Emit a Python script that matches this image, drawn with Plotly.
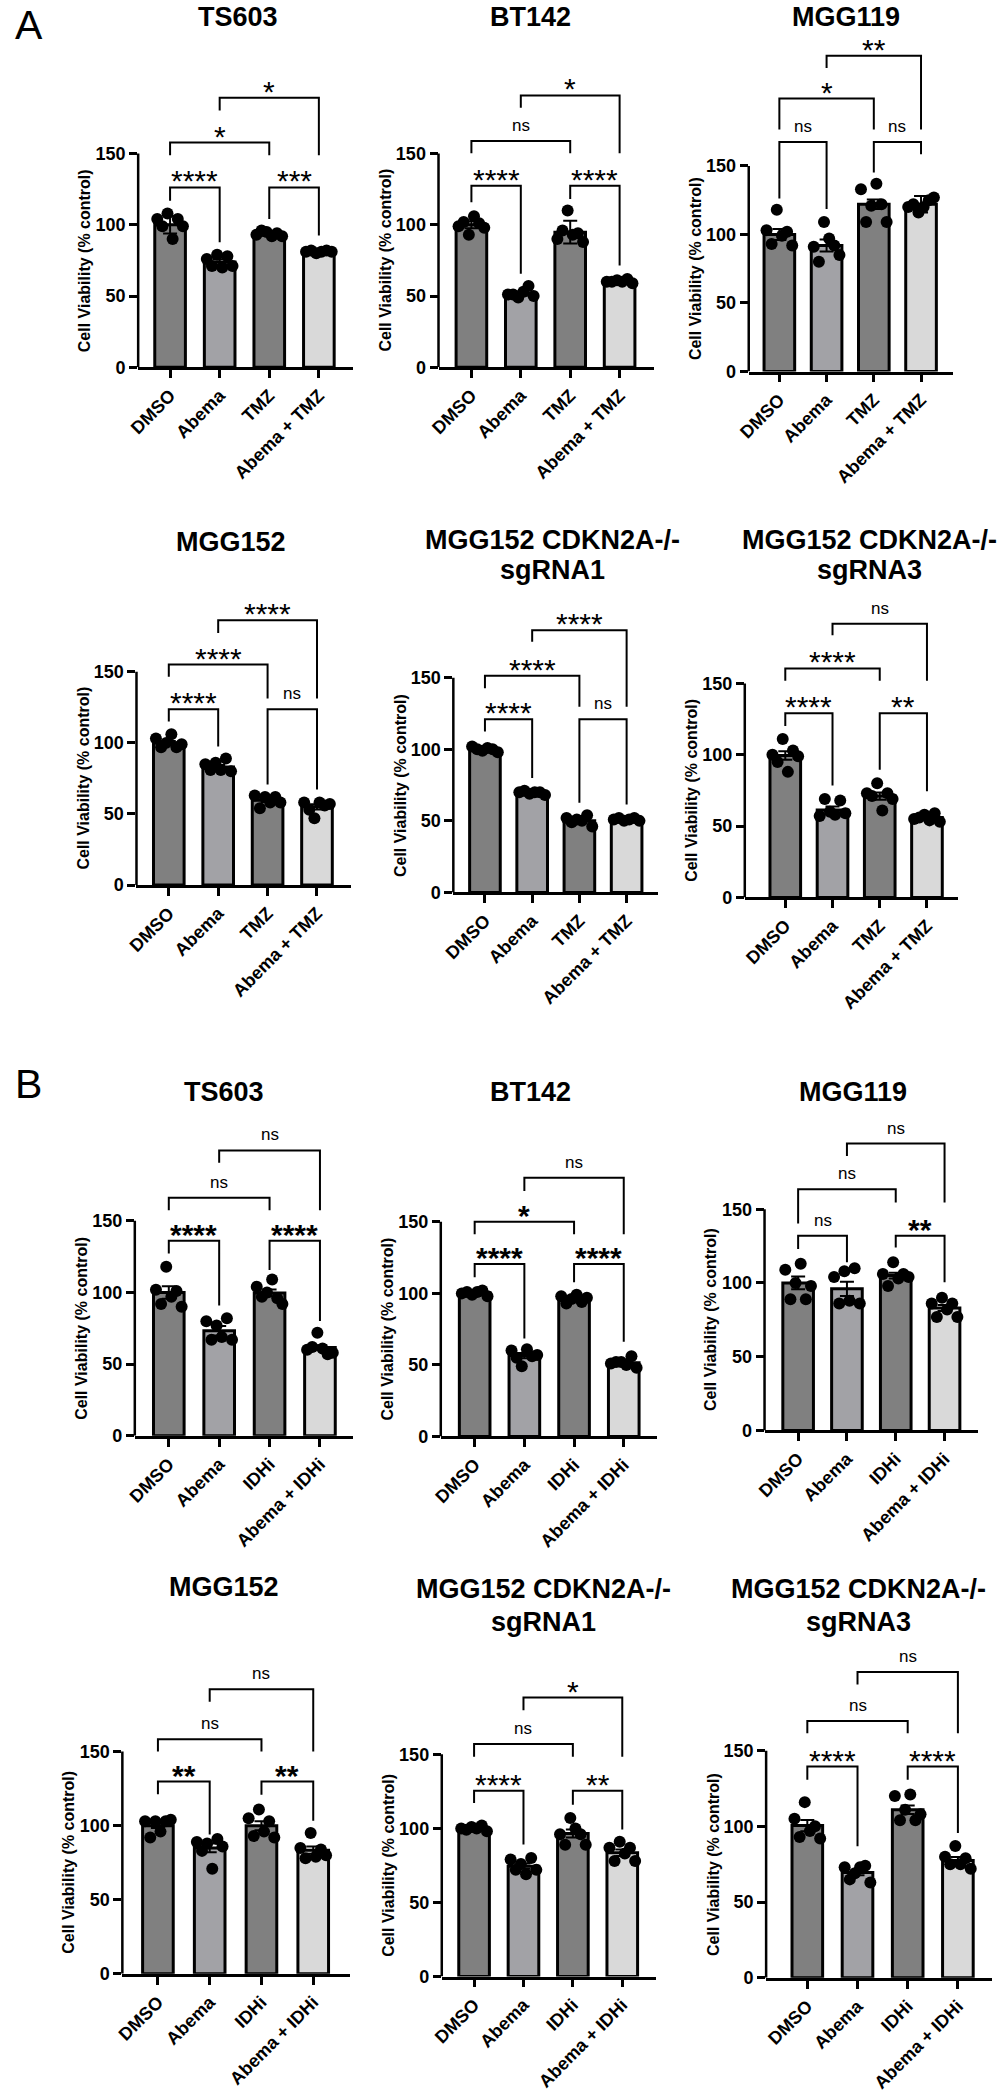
import numpy as np
import plotly.graph_objects as go

W, H = 998, 2100
FONT = "Arial, Liberation Sans, sans-serif"

groups_tmz = ["DMSO", "Abema", "TMZ", "Abema + TMZ"]
groups_idhi = ["DMSO", "Abema", "IDHi", "Abema + IDHi"]
bar_colors = ["#808080", "#a2a2a6", "#808080", "#d9d9d9"]
ytick_vals = [0, 50, 100, 150]
ylabel = "Cell Viability (% control)"

#############################################
# panel A : Abema + TMZ
#############################################
a1_title = ["TS603"]
a1_mean = [100, 73.8, 93.6, 81.3]
a1_err = [6.2, 2.0, 1.4, 0.6]
a1_pts = [[104, 99, 108, 90, 104, 99], [76, 71, 79, 70, 78, 71],
          [93, 96, 95, 92, 94, 92], [81, 82, 80, 81, 82, 81]]
# (group i, group j, bracket height, left leg end, right leg end, label)
a1_sig = [(0, 1, 126.2, 116.9, 87.8, "****"), (2, 3, 126.2, 104.1, 92.5, "***"),
          (0, 2, 157.7, 148.8, 148.8, "*"), (1, 3, 189.1, 180.3, 148.8, "*")]

a2_title = ["BT142"]
a2_mean = [100, 51.7, 94.8, 60.5]
a2_err = [2.5, 1.5, 8, 0.8]
a2_pts = [[99, 102, 93, 106, 101, 98], [51, 51, 49, 53, 57, 50],
          [90, 96, 110, 93, 94, 88], [60, 60, 61, 60, 62, 59]]
a2_sig = [(0, 1, 127.4, 115.8, 65.7, "****"), (2, 3, 127.4, 118.1, 71.5, "****"),
          (0, 2, 158.9, 150.2, 150.2, "ns"), (1, 3, 190.8, 182.2, 150.2, "*")]

a3_title = ["MGG119"]
a3_mean = [100, 92, 122, 122]
a3_err = [4, 4.4, 3.5, 6]
a3_pts = [[103, 93, 118, 99, 102, 92], [91, 80, 109, 97, 92, 85],
          [133, 109, 121, 137, 122, 109], [120, 122, 116, 120, 125, 127]]
a3_sig = [(0, 1, 167.4, 126.3, 118.6, "ns"), (2, 3, 167.4, 145.2, 158.5, "ns"),
          (0, 2, 199.1, 176.6, 176.6, "*"), (1, 3, 230.3, 221.4, 176.6, "**")]

a4_title = ["MGG152"]
a4_mean = [100, 83, 59.7, 55]
a4_err = [1.4, 1.4, 1.3, 1.8]
a4_pts = [[103, 97, 100, 106, 97, 99], [85, 81, 86, 81, 89, 80],
          [63, 54, 62, 58, 62, 58], [58, 53, 47, 58, 56, 57]]
a4_sig = [(0, 1, 123.6, 115.0, 97.5, "****"), (2, 3, 123.6, 70.7, 67.2, "ns"),
          (0, 2, 155.1, 146.5, 131.3, "****"), (1, 3, 186.2, 177.3, 131.3, "****")]

a5_title = ["MGG152 CDKN2A-/-", "sgRNA1"]
a5_mean = [100, 69.6, 50, 51]
a5_err = [0.8, 0.6, 1.2, 0.5]
a5_pts = [[102, 100, 99, 101, 100, 98], [70, 71, 69, 70, 70, 68],
          [52, 49, 51, 50, 54, 46], [51, 52, 50, 51, 52, 50]]
a5_sig = [(0, 1, 121.0, 112.4, 80.0, "****"), (2, 3, 121.0, 62.6, 61.4, "ns"),
          (0, 2, 151.4, 142.6, 129.8, "****"), (1, 3, 183.2, 175.1, 129.8, "****")]

a6_title = ["MGG152 CDKN2A-/-", "sgRNA3"]
a6_mean = [99.5, 61.2, 71, 56]
a6_err = [3, 2.5, 2.6, 1]
a6_pts = [[100, 95, 111, 88, 103, 99], [57, 69, 60, 58, 68, 59],
          [73, 71, 80, 61, 73, 69], [55, 56, 58, 54, 59, 53]]
a6_sig = [(0, 1, 129.1, 120.2, 78.4, "****"), (2, 3, 129.1, 89.5, 74.4, "**"),
          (0, 2, 160.5, 151.9, 151.9, "****"), (1, 3, 191.9, 183.7, 151.9, "ns")]

#############################################
# panel B : Abema + IDHi
#############################################
b1_title = ["TS603"]
b1_mean = [100, 73.3, 99.7, 61.6]
b1_err = [4.3, 3.3, 2.4, 1.6]
b1_pts = [[102, 92, 118, 97, 101, 90], [80, 67, 77, 69, 82, 67],
          [104, 97, 100, 109, 96, 92], [60, 62, 72, 61, 57, 58]]
b1_sig = [(0, 1, 136.1, 127.3, 91.0, "****"), (2, 3, 136.1, 115.7, 80.1, "****"),
          (0, 2, 166.2, 157.4, 157.4, "ns"), (1, 3, 199.1, 190.5, 157.4, "ns")]

b2_title = ["BT142"]
b2_mean = [100.5, 56.5, 96, 51.5]
b2_err = [0.7, 1.8, 1.1, 1.2]
b2_pts = [[100, 101, 99, 101, 102, 98], [60, 55, 49, 61, 56, 57],
          [98, 93, 96, 99, 94, 97], [51, 52, 52, 50, 56, 48]]
b2_sig = [(0, 1, 120.6, 111.3, 68.4, "****"), (2, 3, 120.6, 107.8, 66.1, "****"),
          (0, 2, 150.0, 141.4, 141.4, "*"), (1, 3, 180.8, 171.6, 141.4, "ns")]

b3_title = ["MGG119"]
b3_mean = [100, 96, 105, 83]
b3_err = [4.3, 4.8, 2, 2]
b3_pts = [[109, 89, 100, 113, 89, 98], [104, 86, 108, 88, 110, 86],
          [106, 98, 114, 103, 106, 104], [86, 77, 90, 82, 86, 77]]
b3_sig = [(0, 1, 132.0, 123.0, 114.0, "ns"), (2, 3, 132.0, 124.1, 100.5, "**"),
          (0, 2, 163.5, 140.3, 154.5, "ns"), (1, 3, 194.5, 186.0, 154.5, "ns")]

b4_title = ["MGG152"]
b4_mean = [100, 85, 100, 83.5]
b4_err = [1.5, 3, 3, 2.5]
b4_pts = [[103, 92, 103, 96, 103, 104], [89, 83, 88, 71, 91, 86],
          [105, 93, 111, 96, 103, 92], [85, 78, 95, 79, 84, 80]]
b4_sig = [(0, 1, 129.8, 121.3, 94.0, "**"), (2, 3, 129.8, 120.9, 103.4, "**"),
          (0, 2, 158.3, 150.0, 150.0, "ns"), (1, 3, 192.1, 183.6, 150.0, "ns")]

b5_title = ["MGG152 CDKN2A-/-", "sgRNA1"]
b5_mean = [100, 74.5, 96.5, 83.5]
b5_err = [0.7, 1.8, 2.7, 2.2]
b5_pts = [[100, 99, 101, 100, 102, 98], [79, 72, 76, 69, 80, 72],
          [96, 89, 107, 100, 96, 89], [87, 78, 91, 83, 87, 78]]
b5_sig = [(0, 1, 125.4, 117.1, 89.1, "****"), (2, 3, 125.4, 116.0, 99.2, "**"),
          (0, 2, 156.9, 148.4, 148.4, "ns"), (1, 3, 188.3, 179.8, 148.4, "*")]

b6_title = ["MGG152 CDKN2A-/-", "sgRNA3"]
b6_mean = [100.5, 69.5, 111, 77.5]
b6_err = [3.7, 1.8, 2.8, 2.3]
b6_pts = [[105, 93, 116, 97, 100, 92], [73, 65, 69, 73, 74, 63],
          [120, 104, 111, 121, 104, 108], [80, 75, 87, 75, 79, 72]]
b6_sig = [(0, 1, 139.5, 130.7, 86.9, "****"), (2, 3, 139.5, 130.7, 95.7, "****"),
          (0, 2, 169.5, 161.4, 161.4, "ns"), (1, 3, 201.9, 193.6, 161.4, "ns")]

panels = [
    (a1_title, groups_tmz, a1_mean, a1_err, a1_pts, a1_sig),
    (a2_title, groups_tmz, a2_mean, a2_err, a2_pts, a2_sig),
    (a3_title, groups_tmz, a3_mean, a3_err, a3_pts, a3_sig),
    (a4_title, groups_tmz, a4_mean, a4_err, a4_pts, a4_sig),
    (a5_title, groups_tmz, a5_mean, a5_err, a5_pts, a5_sig),
    (a6_title, groups_tmz, a6_mean, a6_err, a6_pts, a6_sig),
    (b1_title, groups_idhi, b1_mean, b1_err, b1_pts, b1_sig),
    (b2_title, groups_idhi, b2_mean, b2_err, b2_pts, b2_sig),
    (b3_title, groups_idhi, b3_mean, b3_err, b3_pts, b3_sig),
    (b4_title, groups_idhi, b4_mean, b4_err, b4_pts, b4_sig),
    (b5_title, groups_idhi, b5_mean, b5_err, b5_pts, b5_sig),
    (b6_title, groups_idhi, b6_mean, b6_err, b6_pts, b6_sig),
]

# pixel layout of every panel:
# y axis x, first bar x, bar spacing, x axis end, y=150 px, y=0 px, title x, title line y's, bold stars
geom = [
    (127.7, 160.0, 50.2, 345.0, 154.3, 369.0, 229, [17], False),
    (431.7, 465.0, 50.0, 650.0, 154.3, 369.0, 525, [17], False),
    (745.7, 776.7, 47.8, 952.7, 166.7, 373.3, 844, [17], False),
    (126.0, 158.7, 50.0, 343.0, 675.0, 889.3, 222, [545], False),
    (446.7, 478.7, 47.8, 654.0, 681.0, 896.7, 547, [543, 573], False),
    (741.7, 782.7, 47.8, 958.0, 686.7, 901.7, 868, [543, 573], False),
    (124.3, 158.7, 51.0, 345.0, 1226.7, 1442.7, 215, [1097], True),
    (434.0, 468.3, 50.3, 653.3, 1227.7, 1443.3, 525, [1097], True),
    (761.7, 795.7, 49.4, 977.3, 1215.0, 1437.3, 851, [1097], True),
    (111.7, 147.7, 52.4, 342.0, 1760.0, 1983.3, 215, [1595], True),
    (435.0, 467.7, 50.0, 651.7, 1762.7, 1986.0, 538, [1597, 1630], False),
    (763.3, 805.0, 50.8, 991.7, 1759.0, 1987.3, 857, [1597, 1630], False),
]

YTOP = 250

fig = go.Figure()
shapes = []
annotations = []

for k, (panel, g) in enumerate(zip(panels, geom)):
    title, groups, mean, err, pts, sig = panel
    ax_px, first_px, step, right_px, y150_px, y0_px, tx, ty, bold_stars = g
    n = k + 1
    xa = "x" if n == 1 else "x%d" % n
    ya = "y" if n == 1 else "y%d" % n
    xkey = "xaxis" if n == 1 else "xaxis%d" % n
    ykey = "yaxis" if n == 1 else "yaxis%d" % n

    x_lo = -(first_px - ax_px) / step
    x_hi = 3 + (right_px - (first_px + 3 * step)) / step
    pxu = (y0_px - y150_px) / 150.0
    top_px = y0_px - YTOP * pxu

    fig.add_trace(go.Bar(
        x=list(range(4)), y=mean, width=31 / step,
        marker=dict(color=bar_colors, line=dict(color="black", width=3)),
        error_y=dict(type="data", array=err, color="black", thickness=2, width=7),
        xaxis=xa, yaxis=ya, hoverinfo="skip"))

    # individual replicates
    xs, ys = [], []
    for i, vals in enumerate(pts):
        offs = np.linspace(-0.26, 0.26, len(vals)) * 50 / step
        xs += list(i + offs)
        ys += vals
    fig.add_trace(go.Scatter(x=xs, y=ys, mode="markers",
                             marker=dict(color="black", size=12),
                             xaxis=xa, yaxis=ya, hoverinfo="skip", cliponaxis=False))

    fig.layout[xkey] = dict(
        domain=[ax_px / W, right_px / W], range=[x_lo, x_hi], anchor=ya,
        showline=True, linecolor="black", linewidth=2.5, showgrid=False, zeroline=False,
        ticks="outside", ticklen=8, tickwidth=2.5, tickcolor="black",
        tickvals=list(range(4)), ticktext=groups, tickangle=-45,
        tickfont=dict(family=FONT, size=18, color="black", weight="bold"))
    fig.layout[ykey] = dict(
        domain=[1 - y0_px / H, 1 - top_px / H], range=[0, YTOP], anchor=xa,
        showline=False, showgrid=False, zeroline=False,
        ticks="outside", ticklen=8, tickwidth=2.5, tickcolor="black",
        tickvals=ytick_vals, ticktext=[str(v) for v in ytick_vals],
        tickfont=dict(family=FONT, size=18, color="black", weight="bold"))

    # y axis line stops at 150
    shapes.append(dict(type="line", xref=xa + " domain", yref=ya, x0=0, x1=0,
                       y0=0, y1=150, line=dict(color="black", width=2.5)))

    # significance brackets
    for i, j, yl, yleft, yright, lab in sig:
        shapes.append(dict(type="path", xref=xa, yref=ya,
                           path="M %g %g L %g %g L %g %g L %g %g" % (i, yleft, i, yl, j, yl, j, yright),
                           line=dict(color="black", width=2)))
        if lab == "ns":
            annotations.append(dict(x=(i + j) / 2, y=yl, xref=xa, yref=ya, text=lab,
                                    showarrow=False, xanchor="center", yanchor="bottom", yshift=4,
                                    font=dict(family=FONT, size=17, color="black")))
        else:
            annotations.append(dict(x=(i + j) / 2, y=yl, xref=xa, yref=ya, text=lab,
                                    showarrow=False, xanchor="center", yanchor="bottom", yshift=-12,
                                    font=dict(family=FONT, size=30, color="black",
                                              weight="bold" if bold_stars else "normal")))

    # panel title
    for line, yy in zip(title, ty):
        annotations.append(dict(x=tx / W, y=1 - yy / H, xref="paper", yref="paper",
                                text=line, showarrow=False, xanchor="center", yanchor="middle",
                                font=dict(family=FONT, size=27, color="black", weight="bold")))

    # y axis title
    annotations.append(dict(x=(ax_px - 54) / W, y=1 - (y0_px + y150_px) / 2 / H,
                            xref="paper", yref="paper", text=ylabel, textangle=-90,
                            showarrow=False, xanchor="center", yanchor="middle",
                            font=dict(family=FONT, size=16, color="black", weight="bold")))

# panel letters
for lab, yy in [("A", 0), ("B", 1064)]:
    annotations.append(dict(x=1 / W, y=1 - yy / H, xref="paper", yref="paper", text=lab,
                            showarrow=False, xanchor="left", yanchor="top",
                            font=dict(family=FONT, size=41, color="black")))

fig.update_layout(
    width=W, height=H, margin=dict(l=0, r=0, t=0, b=0),
    paper_bgcolor="white", plot_bgcolor="white", showlegend=False,
    shapes=shapes, annotations=annotations)

fig.write_html("out.html", config={"displayModeBar": False},
               post_script="document.body.style.margin='0px';")
